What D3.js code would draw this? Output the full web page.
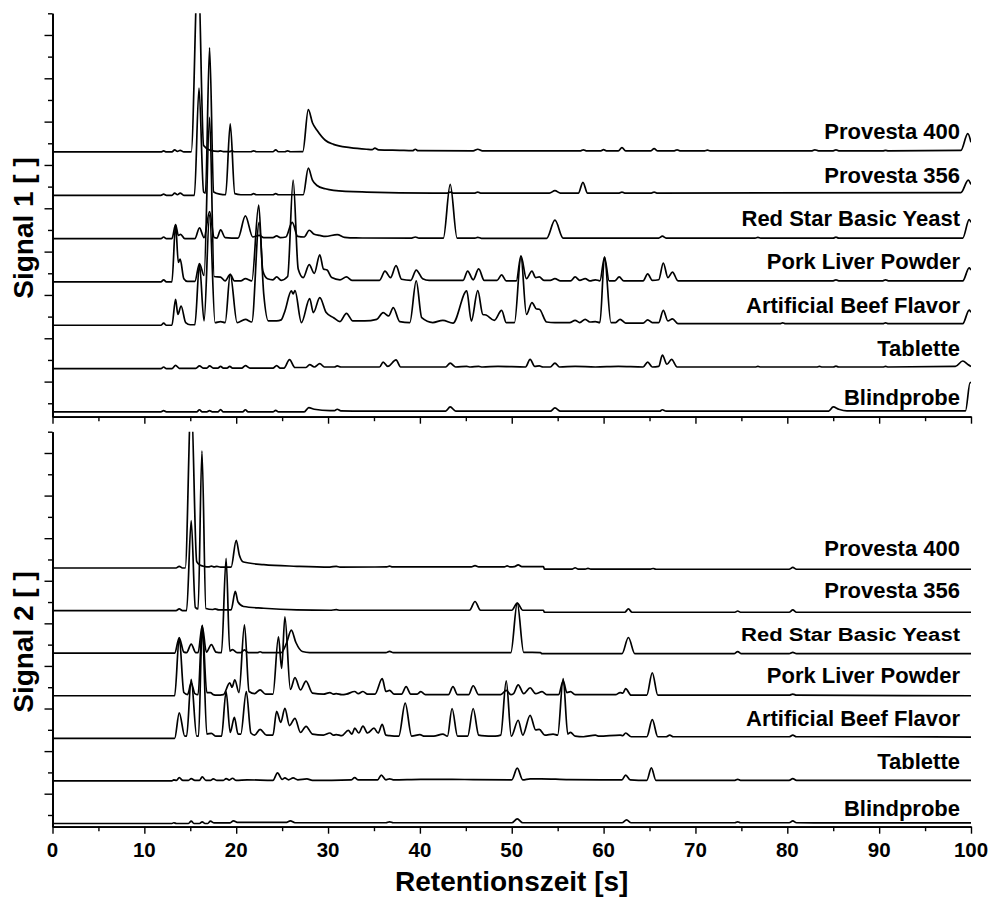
<!DOCTYPE html>
<html>
<head>
<meta charset="utf-8">
<script src="https://cdn.jsdelivr.net/npm/d3@7"></script>
<style>
body { margin: 0; background: #fff; }
text { font-family: "Liberation Sans", Arial, sans-serif; font-weight: bold; fill: #000; }
</style>
</head>
<body>
<script>
// sample names, top to bottom in each panel
const sampleNames = ["Provesta 400", "Provesta 356", "Red Star Basic Yeast", "Pork Liver Powder", "Artificial Beef Flavor", "Tablette", "Blindprobe"];
// vertical offset of each trace (signal units)
const traceOffsets = [232, 192, 152, 112, 72, 32, -8];

const xTickValues = d3.range(0, 101, 5);
const xTickLabels = ["0", "10", "20", "30", "40", "50", "60", "70", "80", "90", "100"];
const yTickValues = d3.range(0, 361, 20);

// signal 1 traces: [retention time, signal above own offset]
const s1Provesta400 = [[0,0],[11.8,0],[12.1,1],[12.4,0],[13.0,0],[13.3,2],[13.6,0.5],[13.9,1.5],[14.3,0],
  [15.1,0],[15.85,175],[16.45,6],[17.2,1.5],[18.0,0.5],[18.3,1],[18.6,0.3],[19.3,0.3],[19.5,1],[19.8,0.2],
  [21.6,0.2],[21.9,1],[22.2,0.2],[24.0,0.2],[24.3,2],[24.6,0.2],[25.3,0.2],[25.6,1],[25.9,0.2],
  [27.25,0.3],[27.85,39],[28.3,27],[28.8,20],[29.7,10.8],[30.6,7],[32.4,4],[34.2,2.5],[34.8,2.2],[35.1,3.5],[35.5,2],
  [37.8,1.5],[39.2,1.2],[39.5,2.5],[39.8,1.2],[45.8,1],[46.3,2.5],[46.8,1],[57.5,1],[57.8,2],[58.1,1],
  [59.7,1],[60.0,2.2],[60.3,1],[61.6,1],[62.0,4],[62.4,1],[65.1,1],[65.5,3],[65.9,1],[67.7,1],[68.0,2],[68.3,1],
  [71.0,1],[71.3,1.7],[71.6,1],[82.7,1],[83.0,2],[83.4,1],[85.0,1],[85.3,2],[85.6,1],[90.4,1],[90.7,1.5],[91.0,1],
  [98.9,1.5],[99.65,17],[100,9]];
const s1Provesta356 = [[0,0],[11.8,0],[12.1,1],[12.4,0],[13.0,0],[13.3,2],[13.6,0.5],[13.9,2],[14.3,0],
  [15.45,0],[15.95,99],[16.45,3],[16.65,2],[17.1,136],[17.55,3],[18.2,1],[18.85,0.5],[19.35,66],[19.85,1.5],[20.5,0.5],
  [21.6,0.5],[21.9,1.5],[22.2,0.5],[24.0,0.5],[24.3,1.5],[24.6,0.5],[27.3,0.5],[27.85,25],[28.3,14],[28.8,9],[29.7,6],[30.6,4.6],[34.2,3],[41.4,2],
  [43.0,2],[43.3,3],[43.6,2],[46.0,2],[46.3,3],[46.6,2],[54.1,2],[54.7,4.3],[55.3,2],[57.25,2],[57.75,12],[58.25,2],
  [61.7,2],[62.0,3],[62.3,2],[65.2,2],[65.5,3],[65.8,2],[98.9,2.5],[99.7,14],[100,10]];
const s1RedStar = [[0,0],[11.8,0],[12.1,1.5],[12.4,0],[13.0,0],[13.4,13],[13.7,3],[13.95,4],[14.4,0],
  [15.5,0],[16.0,10],[16.5,1],[17.1,25],[17.6,1],[17.9,0.5],[18.3,8],[18.8,1],[20.2,0.5],[21.0,21],[21.8,1.5],
  [22.5,3],[23.0,1],[24.0,1],[24.4,2.5],[24.8,1],[25.4,1.5],[26.1,15],[26.7,2],[27.4,1.5],[27.95,7.7],[28.5,4],[29.1,3],[29.7,2],
  [31.0,3.7],[31.8,1.2],[33,0.6],[39.1,0.5],[39.5,1.5],[39.9,0.4],[42.55,0.4],[43.3,50],[44.05,0.5],
  [46.0,0.5],[46.3,1.2],[46.7,0.3],[53.8,0.3],[54.7,17],[55.6,0.5],[66.0,0.5],[66.4,2.3],[66.8,0.5],
  [76.5,0.5],[76.8,1.2],[77.1,0.5],[85.0,0.5],[85.3,1.3],[85.6,0.5],[99.1,0.5],[99.8,17.5],[100,15]];
const s1PorkLiver = [[0,0],[11.8,0],[12.1,2],[12.4,0],[13.0,0],[13.4,53],[13.7,18],[13.9,21],[14.3,3],[14.7,0.5],
  [15.5,0.5],[16.0,17],[16.5,6],[17.1,152],[17.6,5],[18.3,4.5],[18.8,1],[19.35,7],[19.8,1],[20.5,1],[21.0,3],[21.7,1],
  [22.45,71],[22.9,10],[23.4,3],[24.0,2],[24.4,4.6],[24.9,1.5],[25.6,5],[26.2,94],[26.75,12],[27.3,4],
  [27.95,16],[28.5,8],[29.1,25],[29.5,12],[29.9,11],[30.4,4],[31.3,2],[32.0,4.6],[32.6,1.5],[35.6,1.5],
  [36.2,10],[36.8,4],[37.4,15],[38.0,2.5],[39.0,1.5],[39.6,11],[40.3,3],[41.0,1.5],[42.5,1.5],[44.7,1.5],[45.2,10],[45.8,2],[46.4,12],[47.0,1.5],
  [48.4,1.5],[48.9,6.5],[49.4,1],[50.5,1],[51.0,24],[51.6,3],[52.2,10],[52.6,4],[53.0,4.6],[53.5,1.5],[54.2,1.5],[54.7,3],[55.3,1],
  [56.4,1],[56.9,4.6],[57.4,1.5],[58.0,3],[58.5,1],[59.1,2],[59.6,1],[60.1,23],[60.6,1],[61.2,1],[61.7,4.6],[62.2,1],
  [64.3,1],[64.8,7.4],[65.3,1.5],[66.0,2],[66.5,17.5],[67.0,4],[67.5,9],[68.1,1],[85.0,1],[85.3,2],[85.6,1],
  [90.4,1],[90.7,2],[91.0,1],[99.1,1],[99.8,13],[100,11]];
const s1BeefFlavor = [[0,0],[11.8,0],[12.1,2],[12.4,0],[13.0,0],[13.4,24],[13.65,10],[14.0,17.8],[14.5,2.5],[15.0,0.5],
  [15.5,0.5],[16.0,56],[16.5,4],[17.1,102],[17.7,2.5],[18.3,3.4],[18.8,2.5],[19.35,47],[20.1,2.5],[21.0,5.5],[21.7,3],
  [22.5,95],[23.0,28.6],[23.5,4],[24.4,4],[24.9,5],[25.3,13],[26.0,31.7],[26.2,29],[26.4,32],[27.1,2.5],
  [28.0,24.6],[28.4,11.7],[29.1,25.5],[29.8,11.7],[30.6,7],[31.3,3.4],[32.0,11],[32.7,4],[34.0,4],[35.3,5.5],
  [36.0,11.7],[36.6,8.6],[37.1,16.3],[37.8,3.4],[38.9,2.5],[39.6,41],[40.2,7],[41.4,2.5],[42.5,4.6],[43.6,2],
  [45.1,31.7],[45.6,4],[46.3,32],[46.85,10],[47.2,9.5],[48.1,4.6],[48.9,13.8],[49.4,2.5],[50.3,2.5],
  [51.0,63],[51.6,10],[52.2,21],[52.7,15],[53.0,14.8],[53.8,3],[54.7,2.5],[56.3,2.5],[56.9,4.6],[57.4,2.5],[58.0,5.5],[58.5,3],[59.1,3.4],[59.6,2.5],
  [60.1,63],[60.8,2.5],[61.3,2.5],[61.8,5.5],[62.4,2],[64.3,2],[64.8,5],[65.3,2.5],[66.0,2.5],[66.5,13.8],[67.0,4],[67.5,6],[68.1,1.5],
  [79.2,1.5],[79.5,2.3],[79.8,1.5],[90.4,1.5],[90.7,2.3],[91.0,1.5],[99.1,1.5],[99.8,14],[100,12]];
const s1Tablette = [[0,0],[11.8,0],[12.1,1.5],[12.4,0],[13.0,0],[13.4,3],[13.8,0.3],[15.6,0.3],[16.0,2.5],[16.4,0.5],[16.8,0.5],[17.1,2.5],[17.5,0.5],
  [18.0,0.5],[18.3,2],[18.6,0.5],[19.0,0.5],[19.3,2],[19.6,0.5],[20.6,0.5],[21.0,2.8],[21.5,0.5],[24.0,0.5],[24.4,2.8],[24.8,0.5],
  [25.2,0.5],[25.8,8.3],[26.4,1],[27.6,1],[28.0,3.7],[28.5,1.5],[29.1,4.6],[29.6,1.5],[30.7,1.5],[31.0,2.5],[31.4,1.5],
  [35.6,1.5],[36.0,6],[36.5,2],[37.4,8],[37.9,1.5],[42.8,1.5],[43.3,5],[43.9,1.5],[45.1,2],[45.5,1.5],[46.4,2],[46.8,1.5],
  [48.5,2],[51.5,1.5],[52.0,8.5],[52.5,2],[53.0,2.5],[53.4,1.5],[54.2,1.5],[54.7,5],[55.2,1.5],[56.9,2],[59.1,1.5],[61.6,2],
  [64.3,1.5],[64.8,6],[65.3,1.5],[66.0,2],[66.4,12.5],[66.9,4],[67.4,8.5],[68.0,1.5],[76.5,1.5],[76.8,2],[77.1,1.5],
  [83.2,1.5],[83.5,2],[83.8,1.5],[85.0,1.5],[85.3,2.2],[85.6,1.5],[90.4,1.5],[90.7,2],[91.0,1.5],
  [98.3,2],[99.1,7],[99.7,3.5],[100,2]];
const s1Blank = [[0,0],[11.8,0],[12.1,1.2],[12.4,0],[15.7,0],[16.0,2],[16.3,0],[16.8,0],[17.1,1.2],[17.4,0],[18.0,0],[18.3,2.2],[18.6,0],
  [20.7,0],[21.0,2],[21.3,0],[24.0,0],[24.3,1.5],[24.6,0],[27.4,0],[27.9,4],[28.5,2.5],[30.2,1.2],[30.7,1.2],[31.0,2.5],[31.4,1],[34,0.7],
  [42.8,0.7],[43.3,4.6],[43.9,0.7],[54.2,0.7],[54.7,3.7],[55.3,0.7],[66.1,0.7],[66.4,2],[66.8,0.7],[84.5,0.7],[85.0,4.6],[85.6,2.5],[86.5,1],
  [99.4,1],[99.9,27],[100,27]];

// signal 2 traces
const s2Provesta400 = [[0,0],[13.45,0],[13.8,1.6],[14.15,0],[14.45,0],[15.1,160],[15.7,6],[16.1,2.5],[16.6,1.3],[17.0,1],[17.3,1.8],[17.6,1],[17.9,1.5],[18.3,0.8],
  [19.45,0.8],[20.0,26],[20.35,12],[20.8,5.6],[23.0,3.1],[26.6,1.6],[30.2,0.8],[30.9,1.6],[31.3,0.8],[36.4,1],[36.7,1.8],[37.0,1],
  [45.6,1],[46.0,2.2],[46.4,1],[49.2,1],[49.5,2],[49.8,1],[50.3,1.2],[50.7,3],[51.1,1.2],[53.45,1.3],[53.55,-1],[56.6,-1],[56.9,0.2],[57.2,-1],
  [58.0,-1],[58.3,-0.3],[58.6,-1],[65.1,-1],[65.4,-0.5],[65.7,-1.2],[80.2,-1.2],[80.6,0.5],[81.0,-1.2],[100,-1.2]];
const s2Provesta356 = [[0,0],[13.45,0],[13.8,1.6],[14.15,0],[14.6,0],[15.1,84.5],[15.55,3],[15.85,1.5],[16.27,150],[16.7,2],[17.4,1],[17.7,1.6],[18.1,0.7],
  [19.45,0.7],[19.9,18],[20.2,8],[20.8,3.8],[23.0,2.2],[26.6,0.7],[30.2,0.3],[30.9,0.8],[31.3,0.3],
  [45.4,0.3],[46.0,8.5],[46.6,0.3],[50.0,0.3],[50.6,7],[51.2,0.3],[53.45,0.3],[53.55,-1.6],[62.3,-1.6],[62.7,1.5],[63.1,-1.6],
  [74.3,-1.6],[74.6,-0.4],[74.9,-1.6],[80.2,-1.6],[80.6,0.6],[81.0,-1.6],[100,-1.6]];
const s2RedStar = [[0,0],[13.3,0],[13.8,14.4],[14.3,1],[14.6,0.5],[15.1,8.5],[15.6,0.5],[15.85,0.5],[16.3,25.7],[16.75,1],[17.3,8],[17.8,1],[18.4,0.5],
  [18.9,89],[19.3,2],[19.6,3.4],[20.1,0.5],[20.5,0.5],[20.9,3],[21.3,0.5],[22.3,0.5],[22.6,1.3],[22.9,0.5],
  [24.9,0.5],[25.5,10],[26.0,21.6],[26.5,10],[27.2,1.5],[28.0,0.5],[36.3,0.5],[36.7,1.6],[37.1,0.5],
  [49.9,0.5],[50.6,47],[51.3,0.8],[53.15,0.5],[53.25,-0.5],[62.0,-0.5],[62.7,14.7],[63.4,-0.5],
  [74.2,-0.5],[74.6,1.5],[75.0,-0.5],[80.2,-0.5],[80.6,0.8],[81.0,-0.5],[100,-0.5]];
const s2PorkLiver = [[0,0],[13.3,0],[13.8,54.5],[14.3,3],[14.7,1],[15.1,12],[15.5,2],[15.85,1],[16.3,66],[16.8,3],[17.2,3],[17.5,1],[17.9,0.5],
  [18.6,1],[19.3,12],[19.55,8],[19.85,15],[20.3,3],[20.9,66.7],[21.4,4],[22.0,2],[22.6,5.6],[23.2,1.5],[24.0,1.5],
  [24.6,55.4],[24.95,25.7],[25.3,74],[25.9,6],[26.4,17],[27.0,5.5],[27.6,13.8],[28.3,2.5],[29.5,1.5],
  [30.2,3],[30.6,1.5],[30.9,2],[31.5,1],[32.0,1.5],[32.9,4],[33.3,2],[33.8,4],[34.3,1.5],[35.1,1.5],
  [35.9,16],[36.3,4],[36.7,5],[37.2,1.5],[38.0,1.5],[38.5,8.5],[39.0,1.5],[39.7,1.5],[40.1,3.8],[40.6,1],[41.5,1],
  [43.1,1],[43.6,8.5],[44.1,1],[45.3,1],[45.8,9.4],[46.4,1],[48.8,1],[49.4,5],[49.9,1],[50.2,2],[50.7,10.3],[51.3,2],
  [52.0,7.5],[52.6,2],[53.3,3.8],[53.8,1],[55.1,1],[55.6,14],[56.0,3],[56.4,3.8],[56.9,1],[58.1,1],[59.0,1],[61.3,1],[61.8,3],[62.1,2.5],[62.4,6.6],[63.0,0.5],
  [64.7,0.5],[65.3,21.6],[65.9,0.5],[80.2,0.5],[80.6,1.6],[81.0,0.5],[100,0]];
const s2BeefFlavor = [[0,0],[13.3,0],[13.8,24],[14.4,2],[14.6,2],[15.1,55.4],[15.7,2],[15.9,2],[16.3,106],[16.8,4],[17.3,4.7],[17.8,2],[18.4,2],
  [18.9,44],[19.35,5.5],[19.8,19.7],[20.2,4],[20.5,4],[21.1,44],[21.6,5],[22.0,3],[22.6,8.5],[23.3,3],[24.0,3],
  [24.4,25.4],[24.85,15],[25.3,28.2],[25.8,12],[26.4,18.8],[27.0,5.5],[27.6,11.3],[28.3,4],[29.5,3],[30.2,5],[30.6,3],[30.9,3.5],[31.5,2.5],
  [32.2,7.5],[32.6,4],[32.9,9.5],[33.35,5],[33.8,11.5],[34.3,5],[35.0,9.5],[35.45,5],[35.9,13.2],[36.3,3],[36.7,2.5],
  [37.7,2],[38.4,33],[39.1,2],[40.0,3.5],[40.5,2],[41.5,2],[42.5,4],[43.0,2],[43.5,28],[44.1,2],[45.2,2],[45.8,28],[46.4,3],[46.7,2.5],
  [48.2,2],[48.8,3],[49.4,54],[49.95,2],[50.7,17],[51.2,3],[52.0,21.6],[52.6,8],[53.0,8.5],[53.6,3],[54.5,4],[55.0,3],
  [55.6,56],[56.1,4],[56.4,5.6],[56.9,2],[57.8,1.5],[59.1,3],[59.5,2],[61.8,3],[62.1,2.5],[62.4,5],[63.0,1.5],
  [64.7,1.5],[65.3,17.5],[65.9,1.5],[66.8,1.5],[67.2,3],[67.6,1.5],[80.2,1.5],[80.6,3],[81.0,1.5],[88.9,1.5],[100,1.2]];
const s2Tablette = [[0,0],[13.0,0],[13.2,1],[13.5,0.5],[13.8,3],[14.2,0.5],[14.8,0.5],[15.1,2.2],[15.5,0.5],[16.0,0.5],[16.3,3.8],[16.7,0.5],[17.2,0.5],[17.5,1.9],[17.9,0.5],
  [18.6,0.5],[18.9,2.2],[19.25,0.8],[19.6,2.5],[20.0,0.5],[21.2,1],[24.0,0.5],[24.5,7.5],[25.0,1.5],[25.3,2.8],[25.7,1],[26.2,2.8],[26.7,1],[27.7,1.9],[28.3,0.5],
  [32.5,1],[32.9,3],[33.3,1],[35.4,1],[35.8,5.5],[36.3,1],[36.7,2],[37.1,1],[40.1,1.5],[43.5,1.5],[45.8,1.2],
  [50.0,1],[50.6,12],[51.2,1],[52.0,2],[53.2,2],[56.2,1.2],[62.0,1],[62.4,5.5],[62.9,1],
  [64.7,0.5],[65.2,12.2],[65.7,0.5],[74.3,0.5],[74.6,1.5],[74.9,0.5],[80.2,0.5],[80.6,2.2],[81.0,0.5],[85.5,0.5],[100,0.5]];
const s2Blank = [[0,0],[13.0,0],[13.2,0.7],[13.5,0],[14.8,0],[15.1,2.2],[15.4,0],[16.0,0],[16.3,1.6],[16.6,0],[16.9,0],[17.2,2.2],[17.6,0.5],[19.3,0.5],[19.7,2.5],[20.2,1],[25.4,1],[25.9,2.5],[26.4,0.7],
  [36.3,0.7],[36.7,1.6],[37.1,0.7],[50.0,0.7],[50.6,4.3],[51.2,0.7],[62.0,0.7],[62.5,3.5],[63.0,0.7],[74.3,0.7],[74.6,1.6],[74.9,0.7],[80.2,0.7],[80.6,2.5],[81.0,0.7],[85.3,0.5],[100,0.5]];

const signal1 = [s1Provesta400, s1Provesta356, s1RedStar, s1PorkLiver, s1BeefFlavor, s1Tablette, s1Blank];
const signal2 = [s2Provesta400, s2Provesta356, s2RedStar, s2PorkLiver, s2BeefFlavor, s2Tablette, s2Blank];

const svg = d3.select("body").append("svg").attr("width", 992).attr("height", 898);

const x = d3.scaleLinear().domain([0, 100]).range([52.5, 971]);

const panels = [
  { id: "sig1", title: "Signal 1 [ ]", traces: signal1, titleY: 228,
    y: d3.scaleLinear().domain([-12.4, 360]).range([416.7, 13.3]) },
  { id: "sig2", title: "Signal 2 [ ]", traces: signal2, titleY: 642,
    y: d3.scaleLinear().domain([-11, 360]).range([826.7, 431.7]) }
];

panels.forEach(function (p, pi) {
  const y = p.y;
  const bottom = y.range()[0];
  const top = y.range()[1];

  // clip so the big peaks stop at the top of the axis
  svg.append("clipPath").attr("id", "clip-" + p.id)
    .append("rect").attr("x", x(0)).attr("y", top).attr("width", x(100) - x(0)).attr("height", bottom - top);

  const g = svg.append("g").attr("clip-path", "url(#clip-" + p.id + ")");

  p.traces.forEach(function (trace, i) {
    const off = traceOffsets[i];
    const line = d3.line()
      .x(d => x(d[0]))
      .y(d => y(off + d[1]))
      .curve(d3.curveMonotoneX);
    g.append("path").datum(trace)
      .attr("d", line)
      .attr("fill", "none")
      .attr("stroke", "#000")
      .attr("stroke-width", 1.7)
      .attr("stroke-linejoin", "round");
  });

  // sample labels
  sampleNames.forEach(function (name, i) {
    const lift = (i === 6) ? 6.8 : 11.5;
    const t = svg.append("text")
      .attr("x", 960)
      .attr("y", y(traceOffsets[i] + lift))
      .attr("text-anchor", "end")
      .style("font-size", "22px")
      .text(name);
    if (pi === 1 && i === 2) {
      t.style("font-size", "18px").attr("textLength", 219).attr("lengthAdjust", "spacingAndGlyphs");
    }
  });

  // left axis: minor and major ticks
  svg.append("g").attr("transform", "translate(" + x(0) + ",0)")
    .call(d3.axisLeft(y).tickValues(yTickValues.filter(v => v % 40 === 0)).tickSize(4.5).tickSizeOuter(0).tickFormat(""));
  svg.append("g").attr("transform", "translate(" + x(0) + ",0)")
    .call(d3.axisLeft(y).tickValues(yTickValues.filter(v => v % 40 === 20)).tickSize(8).tickSizeOuter(0).tickFormat(""));

  // bottom axis
  svg.append("g").attr("transform", "translate(0," + bottom + ")")
    .call(d3.axisBottom(x).tickValues(xTickValues.filter(v => v % 10 === 5)).tickSize(4.5).tickSizeOuter(0).tickFormat(""));
  svg.append("g").attr("transform", "translate(0," + bottom + ")")
    .call(d3.axisBottom(x).tickValues(xTickValues.filter(v => v % 10 === 0)).tickSize(7).tickSizeOuter(0).tickFormat(""));

  if (pi === 1) {
    svg.append("g").selectAll("text").data(xTickLabels).enter().append("text")
      .attr("x", d => x(+d))
      .attr("y", bottom + 30.5)
      .attr("text-anchor", "middle")
      .style("font-size", "20.5px")
      .text(d => d);
  }

  // y title
  svg.append("text")
    .attr("transform", "translate(33," + p.titleY + ") rotate(-90)")
    .attr("text-anchor", "middle")
    .style("font-size", "28px")
    .text(p.title);
});

svg.selectAll(".domain").attr("stroke", "#000").attr("stroke-width", 1.8);
svg.selectAll(".tick line").attr("stroke", "#000").attr("stroke-width", 1.4);

// x title
svg.append("text")
  .attr("x", (x(0) + x(100)) / 2)
  .attr("y", 891)
  .attr("text-anchor", "middle")
  .style("font-size", "28px")
  .text("Retentionszeit [s]");
</script>
</body>
</html>
